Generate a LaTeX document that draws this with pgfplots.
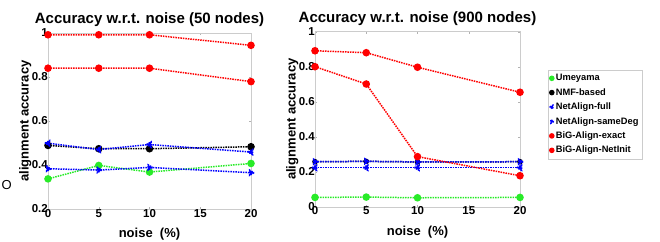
\documentclass[border=0pt]{standalone}
\usepackage{pgfplots}
\pgfplotsset{compat=1.18}
\usepackage{fontspec}
\setmainfont{Liberation Sans}
\definecolor{mgreen}{RGB}{40,235,40}
\definecolor{mblue}{RGB}{0,0,255}
\definecolor{mred}{RGB}{255,0,0}
\pgfplotsset{
  common/.style={
    scale only axis,
    width=203pt,
    xmin=0, xmax=20,
    xtick={0,5,10,15,20},
    axis line style={gray!40},
    tick style={gray!60, major tick length=2pt},
    tick align=inside,
    font=\fontsize{12}{13}\selectfont\bfseries,
    /pgf/number format/assume math mode=true,
    ticklabel style={font=\fontsize{11.5}{12}\selectfont\bfseries, inner sep=1pt},
    xticklabel style={yshift=1pt},
    yticklabel style={xshift=1pt},
    xlabel={noise~~(\%)},
    ylabel={alignment accuracy},
    label style={font=\fontsize{13}{14}\selectfont\bfseries},
    xlabel style={yshift=-6.5pt},
    ylabel style={yshift=-4pt},
    title style={font=\fontsize{15}{16}\selectfont\bfseries, yshift=-3pt},
    every axis plot/.append style={line width=1.5pt, densely dotted, mark size=3pt, mark options={solid}},
    legend style={draw=gray!40, font=\fontsize{9.3}{10}\selectfont\bfseries, row sep=2.2pt, inner sep=1.5pt, inner ysep=2.5pt},
    legend cell align=left,
    legend image code/.code={\draw[#1, mark size=2pt] plot coordinates {(0.05cm,0cm)};},
  }
}
\begin{document}
\begin{tikzpicture}[x=1pt,y=1pt]
\path[use as bounding box] (0,0) rectangle (660,241);
\node[font=\fontsize{13}{14}\selectfont\rmfamily, anchor=west] at (-2,56) {O};
\begin{axis}[common, at={(48pt,32pt)}, anchor=south west, height=176pt,
  ymin=0.2, ymax=1, ytick={0.2,0.4,0.6,0.8,1},
  title={Accuracy w.r.t. noise (50 nodes)}]
\addplot[mgreen, mark=*] coordinates {(0,0.337) (5,0.398) (10,0.368) (20,0.407)};
\addplot[black, mark=*] coordinates {(0,0.489) (5,0.474) (10,0.474) (20,0.483)};
\addplot[mblue, mark=triangle*, mark options={rotate=90}] coordinates {(0,0.499) (5,0.470) (10,0.493) (20,0.459)};
\addplot[mblue, mark=triangle*, mark options={rotate=-90}] coordinates {(0,0.383) (5,0.377) (10,0.389) (20,0.365)};
\addplot[mred, mark=*] coordinates {(0,0.840) (5,0.840) (10,0.840) (20,0.779)};
\addplot[mred, mark=*] coordinates {(0,0.992) (5,0.992) (10,0.992) (20,0.944)};
\end{axis}
\begin{axis}[common, at={(315pt,34.3pt)}, anchor=south west, width=205pt, height=175pt,
  ymin=0, ymax=1, ytick={0,0.2,0.4,0.6,0.8,1},
  title={Accuracy w.r.t. noise (900 nodes)},
  legend style={at={(1.137,0.783)}, anchor=north west}]
\addplot[mgreen, mark=*] coordinates {(0,0.053) (5,0.055) (10,0.051) (20,0.053)};
\addlegendentry{Umeyama}
\addplot[black, mark=*, mark size=2pt] coordinates {(0,0.257) (5,0.259) (10,0.256) (20,0.257)};
\addlegendentry{NMF-based}
\addplot[mblue, mark=triangle*, mark options={rotate=90}] coordinates {(0,0.223) (5,0.223) (10,0.223) (20,0.223)};
\addlegendentry{NetAlign-full}
\addplot[mblue, mark=triangle*, mark options={rotate=-90}] coordinates {(0,0.257) (5,0.259) (10,0.256) (20,0.257)};
\addlegendentry{NetAlign-sameDeg}
\addplot[mred, mark=*] coordinates {(0,0.800) (5,0.701) (10,0.286) (20,0.177)};
\addlegendentry{BiG-Align-exact}
\addplot[mred, mark=*] coordinates {(0,0.891) (5,0.880) (10,0.797) (20,0.654)};
\addlegendentry{BiG-Align-NetInit}
\end{axis}
\end{tikzpicture}
\end{document}
